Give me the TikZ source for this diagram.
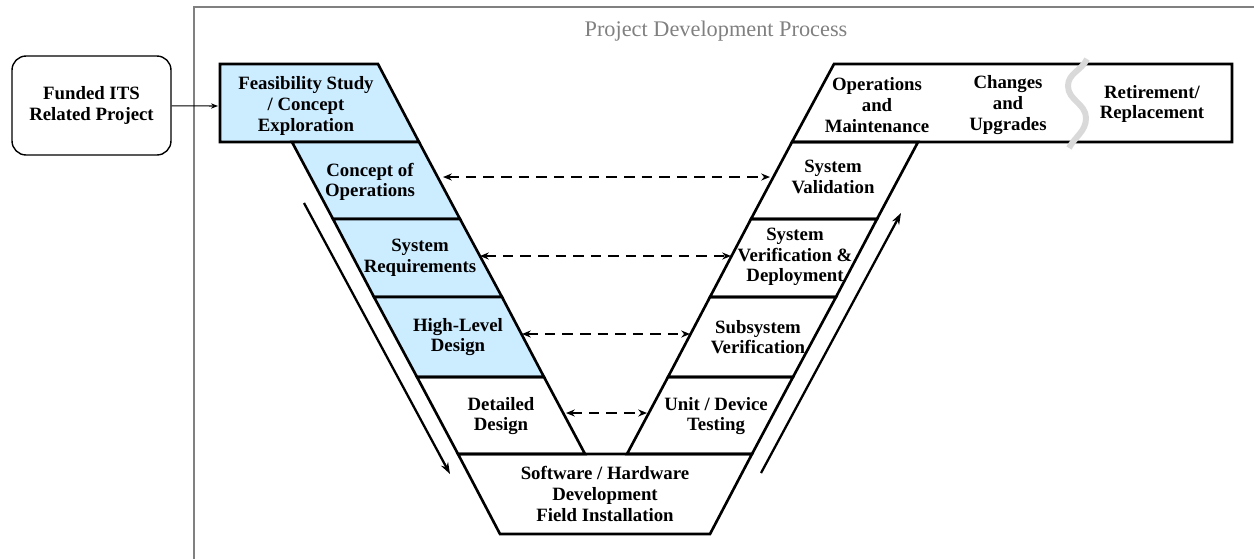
\documentclass[tikz,border=0pt]{standalone}
\usepackage{fontspec}
\setmainfont{Liberation Serif}
\usepackage{tikz}
\usetikzlibrary{arrows.meta}
\usepackage{xcolor}
\definecolor{stageblue}{RGB}{204,236,255}
\definecolor{framegray}{RGB}{128,128,128}
\definecolor{breakgray}{RGB}{217,217,217}
\tikzstyle{stage} = [align=center, inner sep=0pt, font=\bfseries\fontsize{10.7}{11.8}\selectfont]
\tikzstyle{cell} = [line width=1.5pt, draw=black, line join=miter]
\tikzstyle{link} = [line width=1.6pt, dash pattern=on 6pt off 4pt, <->, >={Stealth[length=5pt,width=4pt]}]
\tikzstyle{flow} = [line width=1.3pt, ->, >={Stealth[length=6.5pt,width=4.5pt]}]

\begin{document}
\begin{tikzpicture}[x=0.02cm, y=-0.02cm]
		\useasboundingbox (0,0) rectangle (1254,559);

		%Frame
		\draw[framegray, line width=0.6pt] (194,559) -- (194,7) -- (1254,7);
		\node[text=framegray, font=\fontsize{12.7}{14}\selectfont] (title) at (716,31) {Project Development Process};

		%Left arm corners
		\coordinate (a0) at (378,64);
		\coordinate (a1) at (419,142);
		\coordinate (a2) at (460,219);
		\coordinate (a3) at (502,297);
		\coordinate (a4) at (544,377);
		\coordinate (a5) at (585,454);
		\coordinate (b1) at (292,142);
		\coordinate (b2) at (333,219);
		\coordinate (b3) at (374,297);
		\coordinate (b4) at (417,377);
		\coordinate (b5) at (458,454);
		\coordinate (b6) at (500,534);

		%Right arm corners
		\coordinate (c0) at (834,64);
		\coordinate (c1) at (792,142);
		\coordinate (c2) at (751,219);
		\coordinate (c3) at (710,297);
		\coordinate (c4) at (668,377);
		\coordinate (c5) at (627,454);
		\coordinate (d1) at (918,142);
		\coordinate (d2) at (877,219);
		\coordinate (d3) at (836,297);
		\coordinate (d4) at (793,377);
		\coordinate (d5) at (752,454);
		\coordinate (d6) at (710,534);

		%Cells
		\filldraw[cell, fill=stageblue] (220,64) -- (a0) -- (a1) -- (220,142) -- cycle;
		\filldraw[cell, fill=stageblue] (b1) -- (a1) -- (a2) -- (b2) -- cycle;
		\filldraw[cell, fill=stageblue] (b2) -- (a2) -- (a3) -- (b3) -- cycle;
		\filldraw[cell, fill=stageblue] (b3) -- (a3) -- (a4) -- (b4) -- cycle;
		\draw[cell] (b4) -- (a4) -- (a5) -- (b5) -- cycle;
		\draw[cell] (b5) -- (d5) -- (d6) -- (b6) -- cycle;
		\draw[cell] (c5) -- (d5) -- (d4) -- (c4) -- cycle;
		\draw[cell] (c4) -- (d4) -- (d3) -- (c3) -- cycle;
		\draw[cell] (c3) -- (d3) -- (d2) -- (c2) -- cycle;
		\draw[cell] (c2) -- (d2) -- (d1) -- (c1) -- cycle;
		\draw[cell] (c1) -- (c0) -- (1232,64) -- (1232,142) -- cycle;

		%Break
		\draw[breakgray, line width=3.4pt] (1087,59) to[out=-115,in=90] (1068,86) to[out=-90,in=90] (1086,118) to[out=-90,in=62] (1069,148);

		%Stages
		\node[stage] (l_feas) at (306,106) {Feasibility Study\\/ Concept\\Exploration};
		\node[stage] (l_conops) at (370,182) {Concept of\\Operations};
		\node[stage] (l_sysreq) at (420,258) {System\\Requirements};
		\node[stage] (l_hld) at (458,337) {High-Level\\Design};
		\node[stage] (l_dd) at (501,416) {Detailed\\Design};
		\node[stage] (b_sw) at (605,494) {Software / Hardware\\Development\\Field Installation};
		\node[stage] (r_unit) at (716,416) {Unit / Device\\Testing};
		\node[stage] (r_subsys) at (758,337) {Subsystem\\Verification};
		\node[stage] (r_sysver) at (795,257) {System\\Verification \&\\Deployment};
		\node[stage] (r_sysval) at (833,177) {System\\Validation};
		\node[stage] (r_ops) at (877,105) {Operations\\and\\Maintenance};
		\node[stage] (r_upg) at (1008,105) {Changes\\and\\Upgrades};
		\node[stage] (r_retire) at (1152,104) {Retirement/\\Replacement};

		%Funded project
		\node[stage, draw, line width=0.8pt, rounded corners=8pt, minimum width=3.18cm, minimum height=1.98cm] (funded) at (91.5,105.5) {Funded ITS\\Related Project};
		\coordinate (feas_w) at (218,106);
		\draw[line width=0.6pt, ->, >={Stealth[length=4pt,width=3pt]}] (funded) -- (feas_w);

		%Verification links
		\coordinate (l_conops_e) at (443,177);
		\coordinate (r_sysval_w) at (770,177);
		\coordinate (l_sysreq_e) at (480,256);
		\coordinate (r_sysver_w) at (731,256);
		\coordinate (l_hld_e) at (522,334);
		\coordinate (r_subsys_w) at (690,334);
		\coordinate (l_dd_e) at (566,413);
		\coordinate (r_unit_w) at (647,413);
		\draw[link] (l_conops_e) -- (r_sysval_w);
		\draw[link] (l_sysreq_e) -- (r_sysver_w);
		\draw[link] (l_hld_e) -- (r_subsys_w);
		\draw[link] (l_dd_e) -- (r_unit_w);

		%Flow
		\coordinate (down_s) at (304,203);
		\coordinate (down_e) at (450,474);
		\coordinate (up_s) at (761,473);
		\coordinate (up_e) at (901,213);
		\draw[flow] (down_s) -- (down_e);
		\draw[flow] (up_s) -- (up_e);

	\end{tikzpicture}
\end{document}
